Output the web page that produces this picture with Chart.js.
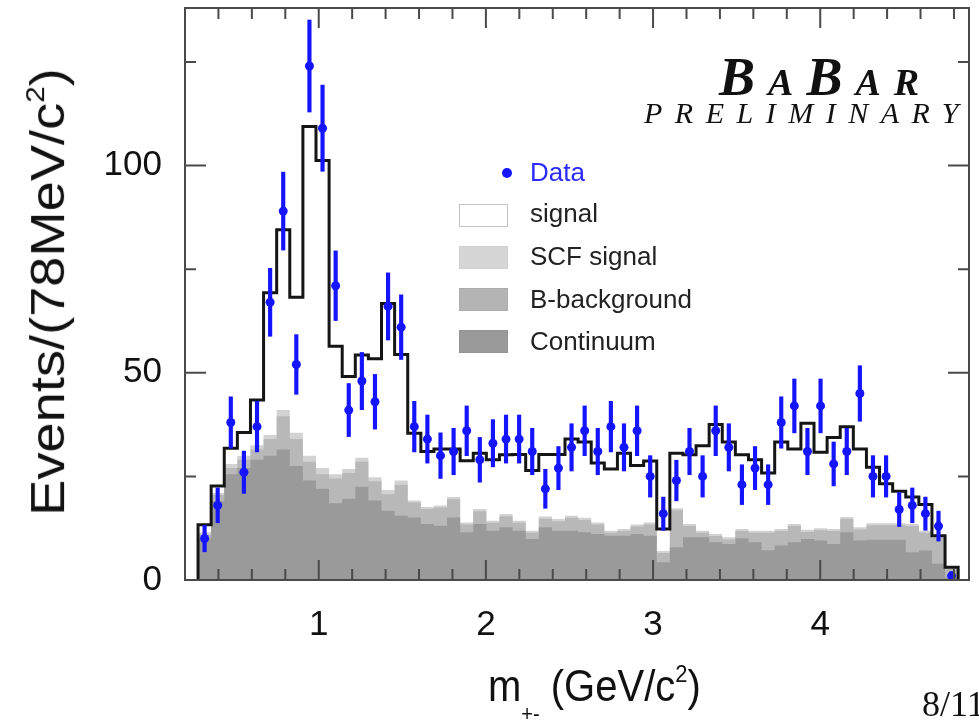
<!DOCTYPE html>
<html>
<head>
<meta charset="utf-8">
<script src="https://cdn.jsdelivr.net/npm/chart.js@4.4.1/dist/chart.umd.min.js"></script>
<style>
html, body { margin: 0; padding: 0; background: #fff; overflow: hidden; }
#wrap { position: relative; width: 979px; height: 722px; }
#plot { position: absolute; left: 0; top: 0; }
.lab { position: absolute; font-family: "Liberation Sans", Arial, sans-serif; color: #111; white-space: nowrap; line-height: 1; }
.box { position: absolute; left: 459px; width: 49px; height: 23px; box-sizing: border-box; border: 1px solid #c4c4c4; }
.leg { left: 530px; font-size: 26px; color: #222; }
.babar { position: absolute; font-family: "Liberation Serif", "Times New Roman", serif; font-style: italic; color: #111; white-space: nowrap; line-height: 1; }
.big { font-size: 54px; }
.small { font-size: 38px; }
</style>
</head>
<body>
<div id="wrap">
<canvas id="plot" width="979" height="722"></canvas>

<div class="lab" style="left:47px; top:292px; font-size:48px; transform:translate(-50%,-50%) rotate(-90deg) scaleX(1.13);">Events/(78MeV/c<sup style="font-size:0.55em; vertical-align:0.75em;">2</sup>)</div>
<div class="lab" style="left:488px; top:662px; font-size:40px; transform:scaleY(1.12); transform-origin:left top;">m<sub style="font-size:0.5em; vertical-align:-0.9em;">+-</sub> (GeV/c<sup style="font-size:0.55em; vertical-align:0.75em;">2</sup>)</div>

<div class="babar" style="left:719px; top:50px; font-weight:bold; letter-spacing:13px;"><span class="big">B</span><span class="small">A</span><span class="big">B</span><span class="small">A</span><span class="small">R</span></div>
<div class="babar" style="left:644px; top:98px; font-size:30px; letter-spacing:12.5px;">PRELIMINARY</div>

<div style="position:absolute; left:502px; top:168px; width:10px; height:10px; border-radius:50%; background:#1414ff;"></div>
<div class="lab leg" style="top:159px; color:#2a2aff;">Data</div>
<div class="box" style="top:204px; background:#fff;"></div>
<div class="lab leg" style="top:200px;">signal</div>
<div class="box" style="top:246px; background:#d6d6d6; border-color:#cfcfcf;"></div>
<div class="lab leg" style="top:243px;">SCF signal</div>
<div class="box" style="top:288px; background:#b4b4b4; border-color:#adadad;"></div>
<div class="lab leg" style="top:286px;">B-background</div>
<div class="box" style="top:330px; background:#9a9a9a; border-color:#949494;"></div>
<div class="lab leg" style="top:328px;">Continuum</div>

<div class="babar" style="left:922px; top:686px; font-size:36px; font-style:normal;">8/11</div>
</div>

<script>
// binning of the m+- histogram (GeV)
var binStart = 0.278;
var binWidth = 0.0784;

// data points and their errors
var dataEvents = [10,18,38,26,37,67,89,52,124,109, 71,41,48,43,66,61,37,34,30,31,
    36,29,33,34,34,31,22,27,32,36, 31,37,32,36,25,16,24,31,25,36,
    32,23,27,23,38,42,31,42,28,31, 45,25,25,17,18,16,13,1];
var dataErr = [3.2,4.2,6.2,5.1,6.1,8.2,9.4,7.2,11.1,10.4, 8.4,6.4,6.9,6.6,8.1,7.8,6.1,5.8,5.5,5.6,
    6.0,5.4,5.7,5.8,5.8,5.6,4.7,5.2,5.7,6.0, 5.6,6.1,5.7,6.0,5.0,4.0,4.9,5.6,5.0,6.0,
    5.7,4.8,5.2,4.8,6.2,6.5,5.6,6.5,5.3,5.6, 6.7,5.0,5.0,4.1,4.2,4.0,3.6,1.0];

// fit: total (black line) and the background components
var fitTotal = [13.3,22.7,31.8,35.6,43.4,69.3,84.5,68.2,109.4,101.2, 56.4,49.1,54.3,53.4,66.7,54.4,35.4,31.0,31.6,31.6,
    28.8,30.6,29.0,30.2,30.3,26.4,30.3,30.3,34.0,33.3, 28.2,26.8,30.6,27.6,28.7,12.3,30.6,30.2,32.4,37.5,
    33.3,30.2,29.0,25.8,33.3,31.6,37.8,30.8,34.4,37.0, 31.6,27.2,23.2,21.4,20.0,18.2,10.7,3.1];
var continuum = [10,19,25.5,27,29,30,31.5,27.5,24,22, 18.5,19.6,22.5,19.2,16.7,15.5,15.1,13.5,13.1,15.1,
    11.5,13.5,11.9,12.7,11.9,9.9,12.7,11.9,11.9,11.5, 11.1,10.7,10.7,11.1,10.7,4.3,7.9,10.3,10.3,9.1,
    8.7,10.1,9.1,7.2,8.3,9.1,9.9,9.5,8.7,11.5, 9.5,9.7,9.7,9.7,6.7,7.1,3.9,0.6];
var bBackground = [1.0,1.5,1.5,2.0,2.5,4.0,8.0,6.5,4.5,3.5, 6.0,6.2,6.0,4.6,4.0,7.5,3.6,3.6,4.4,4.4,
    1.9,3.1,1.9,2.7,1.9,1.5,2.1,2.3,3.1,3.0, 2.3,0.7,1.1,1.8,2.7,2.2,8.9,2.7,1.1,1.5,
    1.1,1.7,2.3,4.2,3.5,3.9,1.7,2.5,3.1,3.2, 2.7,3.5,3.5,3.5,6.3,4.3,6.3,2.2];
var scfSignal = [0.5,0.5,1,1,1,1,1.5,1.5,1.5,1.5, 1,1,1,1,1,1,0.5,0.5,0.5,0.5,
    0.5,0.5,0.5,0.5,0.5,0.5,0.5,0.5,0.5,0.5, 0.5,0.5,0.5,0.5,0.5,0.5,0.5,0.5,0.5,0.5,
    0.5,0.5,0.5,0.5,0.5,0.5,0.5,0.5,0.5,0.5, 0.5,0.5,0.5,0.5,0.5,0.5,0.5,0.3];

// axis ticks
var xTicks = [1, 2, 3, 4];
var xMinorTicks = [0.4,0.6,0.8,1.2,1.4,1.6,1.8,2.2,2.4,2.6,2.8,3.2,3.4,3.6,3.8,4.2,4.4,4.6,4.8];
var yTicks = [0, 50, 100];
var yMinorTicks = [25, 75, 125];

function edge(i) { return binStart + i * binWidth; }

// points at bin edges, drawn with stepped lines
function histPoints(values) {
    var pts = [{x: edge(0), y: 0}];
    for (var i = 0; i < values.length; i++) pts.push({x: edge(i), y: values[i]});
    pts.push({x: edge(values.length), y: 0});
    return pts;
}

var bTop = continuum.map(function (v, i) { return v + bBackground[i]; });
var scfTop = bTop.map(function (v, i) { return v + scfSignal[i]; });

var framePlugin = {
    id: 'frame',
    afterDatasetsDraw: function (chart) {
        var ctx = chart.ctx, a = chart.chartArea;
        var xs = chart.scales.x, ys = chart.scales.y;
        ctx.save();
        ctx.strokeStyle = '#4a4a4a';
        ctx.lineWidth = 2;
        ctx.beginPath();
        function xt(v, len) {
            var p = xs.getPixelForValue(v);
            ctx.moveTo(p, a.bottom); ctx.lineTo(p, a.bottom - len);
            ctx.moveTo(p, a.top); ctx.lineTo(p, a.top + len);
        }
        function yt(v, len) {
            var p = ys.getPixelForValue(v);
            ctx.moveTo(a.left, p); ctx.lineTo(a.left + len, p);
            ctx.moveTo(a.right, p); ctx.lineTo(a.right - len, p);
        }
        xTicks.forEach(function (v) { xt(v, 20); });
        xMinorTicks.forEach(function (v) { xt(v, 11); });
        yTicks.forEach(function (v) { yt(v, 21); });
        yMinorTicks.forEach(function (v) { yt(v, 11); });
        ctx.stroke();
        ctx.strokeRect(a.left, a.top, a.right - a.left, a.bottom - a.top);
        ctx.restore();
    }
};

var blue = '#1414ff';
var ctx = document.getElementById('plot').getContext('2d');
var myChart = new Chart(ctx, {
    type: 'line',
    data: {
        datasets: [{
            type: 'scatter',
            label: 'Data',
            data: dataEvents.map(function (v, i) { return {x: edge(i) + binWidth / 2, y: v}; }),
            pointRadius: 4.5,
            pointBackgroundColor: blue,
            pointBorderWidth: 0,
            order: 0
        }, {
            type: 'bar',
            label: 'errors',
            data: dataEvents.map(function (v, i) {
                return {x: edge(i) + binWidth / 2, y: [v - dataErr[i], v + dataErr[i]]};
            }),
            backgroundColor: blue,
            barThickness: 3.5,
            order: 1
        }, {
            label: 'total',
            data: histPoints(fitTotal),
            stepped: true,
            borderColor: '#151515',
            borderWidth: 3,
            pointRadius: 0,
            fill: false,
            order: 2
        }, {
            label: 'Continuum',
            data: histPoints(continuum),
            stepped: true,
            borderColor: 'rgba(0,0,0,0)',
            borderWidth: 0,
            pointRadius: 0,
            backgroundColor: '#9a9a9a',
            fill: 'origin',
            order: 3
        }, {
            label: 'B-background',
            data: histPoints(bTop),
            stepped: true,
            borderColor: 'rgba(0,0,0,0)',
            borderWidth: 0,
            pointRadius: 0,
            backgroundColor: '#b8b8b8',
            fill: 'origin',
            order: 4
        }, {
            label: 'SCF signal',
            data: histPoints(scfTop),
            stepped: true,
            borderColor: 'rgba(0,0,0,0)',
            borderWidth: 0,
            pointRadius: 0,
            backgroundColor: '#d2d2d2',
            fill: 'origin',
            order: 5
        }]
    },
    options: {
        responsive: false,
        animation: false,
        layout: { autoPadding: false, padding: { left: 0, right: 10, top: 8, bottom: 0 } },
        plugins: { legend: { display: false }, tooltip: { enabled: false } },
        scales: {
            x: {
                type: 'linear',
                min: 0.2,
                max: 4.89,
                offset: false,
                grid: { display: false, drawTicks: false },
                border: { display: false },
                afterBuildTicks: function (s) { s.ticks = xTicks.map(function (v) { return {value: v}; }); },
                afterFit: function (s) { s.height = 142; s.paddingLeft = 0; s.paddingRight = 0; },
                ticks: {
                    padding: 24,
                    maxRotation: 0,
                    color: '#111',
                    font: { family: '"Liberation Sans", Arial, sans-serif', size: 35 }
                }
            },
            y: {
                min: 0,
                max: 138,
                grid: { display: false, drawTicks: false },
                border: { display: false },
                afterBuildTicks: function (s) { s.ticks = yTicks.map(function (v) { return {value: v}; }); },
                afterFit: function (s) { s.width = 185; s.paddingTop = 0; s.paddingBottom = 0; },
                ticks: {
                    padding: 23,
                    color: '#111',
                    font: { family: '"Liberation Sans", Arial, sans-serif', size: 35 }
                }
            }
        }
    },
    plugins: [framePlugin]
});
</script>
</body>
</html>
